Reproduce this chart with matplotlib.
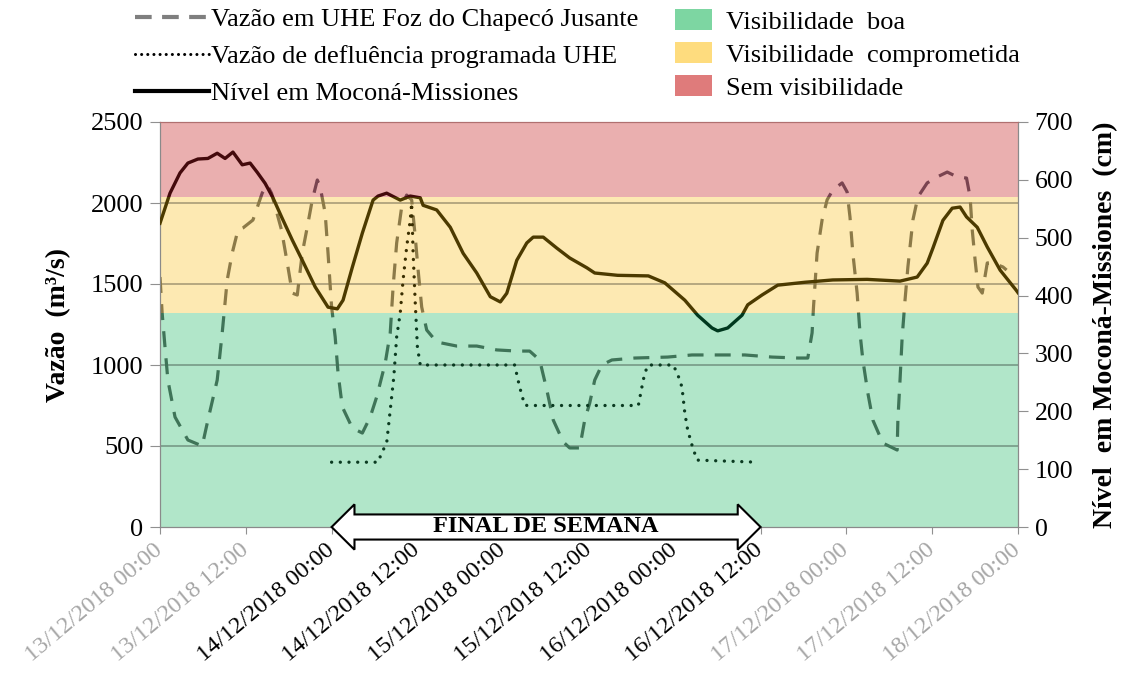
import matplotlib
matplotlib.use('Agg')
import matplotlib.pyplot as plt
import matplotlib.transforms as mtransforms
from matplotlib.lines import Line2D
from matplotlib.patches import Patch, Polygon, Rectangle

plt.rcParams['font.family'] = ['Liberation Serif', 'DejaVu Serif']

# horas contadas a partir de 13/12/2018 00:00
nivel_h = [0, 1.4, 2.8, 3.9, 5.3, 6.7, 8.0, 9.1, 10.2, 11.5, 12.6, 13.6, 14.7, 15.8,
           17.0, 18.5, 19.9, 21.7, 23.5, 24.8, 25.6, 26.9, 28.3, 29.8, 30.5, 31.7,
           33.6, 35.0, 36.4, 36.8, 38.7, 40.6, 42.4, 44.3, 46.2, 47.6, 48.5, 49.9,
           51.3, 52.2, 53.6, 55.5, 57.3, 59.7, 60.8, 64.0, 68.3, 70.6, 73.4, 75.2,
           77.2, 78.0, 79.4, 81.4, 82.2, 84.2, 86.4, 90.2, 94.1, 98.9, 103.5, 105.9,
           107.3, 108.1, 109.5, 110.8, 111.9, 112.8, 114.3, 115.7, 117.5, 119.7, 120]
nivel_cm = [525, 577, 612, 629, 636, 637, 646, 637, 648, 626, 629, 613, 594, 569,
            536, 496, 461, 415, 380, 377, 392, 449, 508, 565, 572, 577,
            565, 572, 569, 556, 548, 518, 473, 439, 398, 389, 404, 461,
            491, 501, 501, 482, 465, 448, 439, 435, 434, 422, 392, 366,
            344, 339, 344, 366, 384, 401, 418, 423, 427, 428, 425, 432,
            456, 482, 530, 551, 553, 536, 518, 484, 444, 410, 405]

vazao_h = [0, 0.3, 0.7, 1.1, 2.1, 3.9, 5.9, 6.7, 8.0, 8.7, 9.4, 10.1, 10.9, 11.6,
           13.0, 14.3, 15.0, 15.6, 17.0, 17.8, 18.5, 19.2, 19.9, 20.6, 21.3, 22.0,
           22.4, 23.1, 23.5, 24.0, 24.5, 24.9, 25.5, 26.9, 28.3, 29.4, 30.3, 31.5,
           32.2, 32.6, 33.1, 33.8, 34.5, 35.2, 35.7, 36.1, 36.6, 37.3, 38.7, 41.5,
           44.3, 47.1, 49.9, 51.7, 53.1, 54.1, 55.0, 56.4, 57.3, 58.7, 59.4, 60.1,
           60.8, 61.8, 63.2, 66.4, 71.0, 74.4, 78.0, 81.8, 85.6, 89.2, 90.6, 91.2,
           91.4, 91.9, 92.6, 93.3, 94.1, 95.4, 96.1, 96.5, 96.9, 97.5, 97.9, 98.3,
           99.0, 99.7, 101.1, 103.1, 103.2, 103.5, 103.8, 104.2, 104.6, 105.3, 106.0,
           107.3, 108.7, 110.1, 111.5, 112.8, 113.3, 113.6, 114.0, 114.4, 115.0,
           115.7, 116.5, 117.9, 118.4]
vazao = [1543, 1321, 1111, 907, 679, 537, 500, 660, 907, 1198, 1525, 1691, 1833, 1846,
         1895, 2062, 2111, 2060, 1833, 1630, 1444, 1432, 1691, 1852, 2019, 2142,
         2099, 1938, 1691, 1358, 1173, 951, 741, 611, 580, 679, 802, 1012,
         1198, 1481, 1753, 1975, 2049, 2019, 1790, 1586, 1358, 1216, 1142, 1117,
         1117, 1093, 1086, 1086, 1031, 846, 660, 525, 488, 488, 660, 765,
         907, 1000, 1031, 1043, 1049, 1062, 1062, 1062, 1049, 1043, 1043, 1198,
         1358, 1691, 1895, 2019, 2080, 2124, 2068, 1914, 1691, 1444, 1198, 1031,
         827, 660, 518, 475, 660, 907, 1173, 1401, 1605, 1895, 2037,
         2124, 2161, 2191, 2161, 2154, 2037, 1833, 1648, 1481, 1444,
         1630, 1630, 1605, 1586]

prog_h = [24, 30.5, 31.0, 31.7, 32.2, 32.7, 33.1, 33.6, 34.0, 34.5, 35.0, 35.2, 35.4,
          35.7, 36.0, 36.4, 49.6, 50.3, 51.0, 51.4, 66.9, 67.4, 67.8, 68.3, 71.8,
          72.5, 73.0, 73.4, 73.8, 74.4, 75.1, 83.6]
prog = [400, 400, 457, 518, 722, 926, 1173, 1321, 1525, 1728, 1895, 2000, 1691,
        1383, 1111, 1000, 1000, 864, 753, 750, 750, 864, 951, 1000, 1000,
        930, 864, 704, 599, 506, 413, 400]

xticks_h = list(range(0, 121, 12))
xlabels = ['13/12/2018 00:00', '13/12/2018 12:00', '14/12/2018 00:00', '14/12/2018 12:00',
           '15/12/2018 00:00', '15/12/2018 12:00', '16/12/2018 00:00', '16/12/2018 12:00',
           '17/12/2018 00:00', '17/12/2018 12:00', '18/12/2018 00:00']
fim_semana = (24, 84)

faixas_cm = [(0, 370), (370, 570), (570, 700)]
faixa_nomes = ['Visibilidade  boa', 'Visibilidade  comprometida', 'Sem visibilidade']
cor_faixa = ['#b1e6c9', '#fde9b2', '#eaafaf']
cor_legenda = ['#7dd6a2', '#fedc7e', '#df7b7b']
cor_nivel = ['#00381e', '#4c3a00', '#440a0c']
cor_vazao = ['#3f7458', '#8c7a48', '#7a4450']
cor_prog = ['#0a3a20', '#3a2e00', '#3a1010']

fator = 2500 / 700

fig = plt.figure(figsize=(11.28, 6.84), dpi=100)
ax = fig.add_axes([160 / 1128, 1 - 527 / 684, 858 / 1128, 405 / 684])
ax2 = ax.twinx()
ax.set_xlim(0, 120)
ax.set_ylim(0, 2500)
ax2.set_ylim(0, 700)

for (lo, hi), c in zip(faixas_cm, cor_faixa):
    ax.axhspan(lo * fator, hi * fator, color=c, lw=0, zorder=0)
for v in range(500, 2001, 500):
    ax.axhline(v, color='k', alpha=0.3, lw=1.3, zorder=1)


def desenha(eixo, x, y, escala, cores, **kw):
    for (lo, hi), c in zip(faixas_cm, cores):
        ln, = eixo.plot(x, y, color=c, **kw)
        r = Rectangle((0, lo * escala), 120, (hi - lo) * escala, transform=eixo.transData)
        ln.set_clip_path(r)


desenha(ax, vazao_h, vazao, fator, cor_vazao, lw=2.3, ls=(0, (5, 3.5)), zorder=3)
desenha(ax, prog_h, prog, fator, cor_prog, lw=2.4, ls=(0, (0.01, 2.6)),
        dash_capstyle='round', zorder=3)
desenha(ax2, nivel_h, nivel_cm, 1, cor_nivel, lw=2.4, zorder=3)

ax.set_yticks(range(0, 2501, 500))
ax2.set_yticks(range(0, 701, 100))
ax.set_xticks(xticks_h)
ax.tick_params(axis='x', labelsize=17.5, length=5, color='#909090', pad=2)
ax.tick_params(axis='y', labelsize=19, length=7, color='#909090', pad=5)
ax2.tick_params(axis='y', labelsize=18.5, length=7, color='#909090', pad=5)
ax.set_xticklabels(xlabels, rotation=40, ha='right', rotation_mode='anchor')
desloc = mtransforms.ScaledTranslation(-7 / 100, -3 / 100, fig.dpi_scale_trans)
for tk, h in zip(ax.xaxis.get_major_ticks(), xticks_h):
    lab = tk.label1
    lab.set_color('black' if fim_semana[0] <= h <= fim_semana[1] else '#a6a6a6')
    lab.set_transform(lab.get_transform() + desloc)
for a in (ax, ax2):
    for s in ('left', 'right', 'bottom'):
        a.spines[s].set_color('#8a8a8a')
    a.spines['top'].set_color('#b07070')

ax.set_ylabel('Vazão  (m³/s)', fontsize=20, fontweight='bold', labelpad=14)
ax2.set_ylabel('Nível  em Moconá-Missiones  (cm)', fontsize=20, fontweight='bold', labelpad=14)

# seta do final de semana
x0, x1 = fim_semana
hl, bh, hh = 3.2, 0.031, 0.056
trans = mtransforms.blended_transform_factory(ax2.transData, ax2.transAxes)
pts = [(x0, 0), (x0 + hl, hh), (x0 + hl, bh), (x1 - hl, bh), (x1 - hl, hh), (x1, 0),
       (x1 - hl, -hh), (x1 - hl, -bh), (x0 + hl, -bh), (x0 + hl, -hh)]
ax2.add_patch(Polygon(pts, closed=True, facecolor='white', edgecolor='black', lw=1.5,
                      transform=trans, clip_on=False, zorder=10))
ax2.text((x0 + x1) / 2, 0.0, 'FINAL DE SEMANA', transform=trans, ha='center', va='center',
         fontsize=17.5, fontweight='bold', zorder=11)

h1 = [Line2D([], [], color='#7f7f7f', lw=3, ls=(0, (4, 2.5))),
      Line2D([], [], color='black', lw=2.2, ls=(0, (0.01, 2.0)), dash_capstyle='round'),
      Line2D([], [], color='black', lw=3)]
fig.legend(h1, ['Vazão em UHE Foz do Chapecó Jusante', 'Vazão de defluência programada UHE',
                'Nível em Moconá-Missiones'],
           loc='upper left', bbox_to_anchor=(135 / 1128, 1 - 8 / 684), frameon=False,
           fontsize=19, handlelength=2.8, handletextpad=0.08, labelspacing=0.5,
           borderpad=0, borderaxespad=0)
h2 = [Patch(facecolor=c, edgecolor='none') for c in cor_legenda]
fig.legend(h2, faixa_nomes, loc='upper left', bbox_to_anchor=(675 / 1128, 1 - 9 / 684),
           frameon=False, fontsize=19, handlelength=1.4, handleheight=0.85,
           handletextpad=0.55, labelspacing=0.32, borderpad=0, borderaxespad=0)

fig.savefig('out.png', dpi=100)
